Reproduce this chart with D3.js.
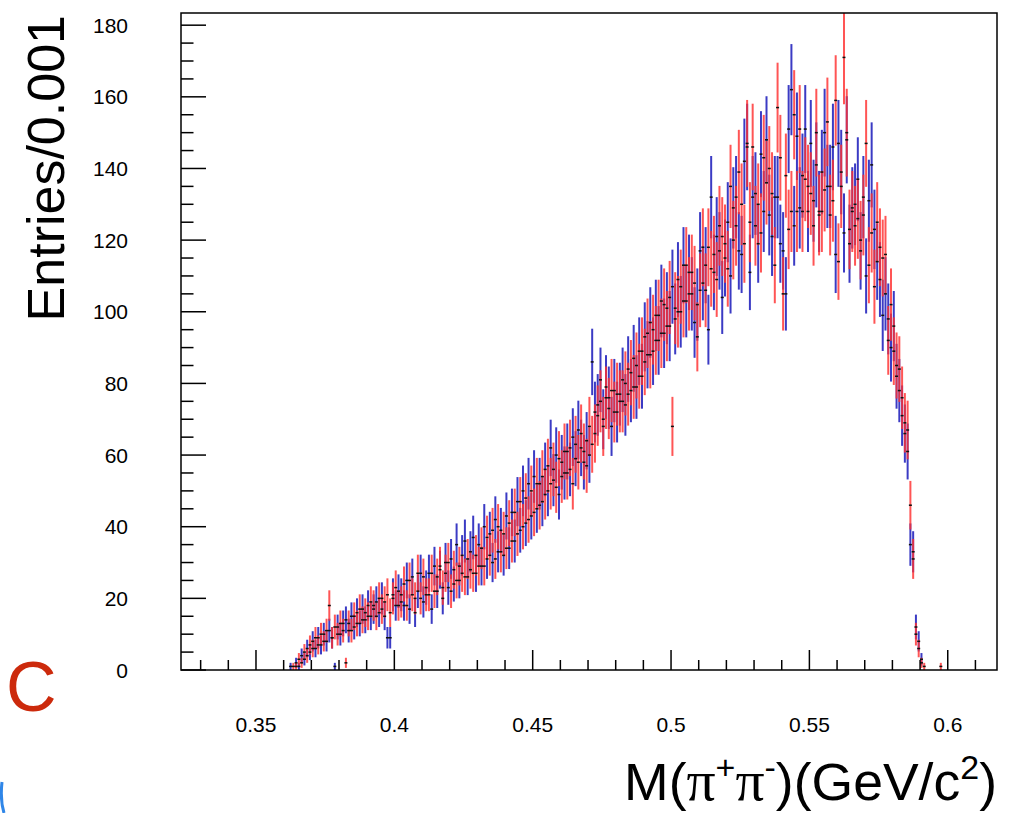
<!DOCTYPE html>
<html>
<head>
<meta charset="utf-8">
<script src="https://cdn.jsdelivr.net/npm/d3@7"></script>
<style>
  body { margin: 0; background: #fff; }
  text { font-family: 'Liberation Sans', Arial, sans-serif; }
</style>
</head>
<body>
<svg id="chart" width="1013" height="813"></svg>
<script>
// first bin centre and bin width (GeV/c^2)
const binStart = 0.3625
const binWidth = 0.001

// entries per bin, blue sample
const blueCounts = [
  1, 0, 2, 1, 4, 3, 6, 5, 8, 6,
  9, 7, 10, 8, 11, 9, 1, 12, 10, 13,
  14, 11, 15, 12, 16, 13, 17, 14, 18, 15,
  17, 19, 16, 20, 15, 9, 9, 21, 18, 22,
  21, 18, 25, 17, 26, 16, 22, 27, 19, 23,
  27, 17, 29, 22, 28, 20, 30, 23, 31, 24,
  35, 25, 32, 36, 26, 33, 37, 27, 35, 29,
  40, 31, 38, 30, 42, 33, 39, 32, 43, 34,
  44, 36, 47, 39, 50, 41, 52, 43, 54, 45,
  52, 47, 56, 50, 62, 53, 60, 49, 58, 55,
  61, 56, 65, 59, 67, 62, 58, 64, 60, 86,
  72, 74, 81, 70, 79, 76, 68, 78, 72, 77,
  81, 74, 84, 78, 87, 79, 89, 82, 93, 88,
  97, 89, 99, 92, 103, 94, 101, 96, 107, 98,
  109, 100, 113, 103, 111, 105, 97, 102, 117, 108,
  113, 95, 132, 111, 121, 117, 104, 115, 125, 110,
  129, 132, 117, 116, 142, 146, 111, 132, 133, 119,
  144, 128, 148, 127, 121, 132, 132, 119, 117, 105,
  151, 162, 124, 149, 129, 138, 151, 128, 147, 131,
  141, 128, 139, 150, 135, 135, 146, 116, 147, 139,
  122, 148, 119, 129, 130, 137, 117, 132, 110, 131,
  141, 123, 114, 109, 99, 105, 98, 90, 96, 82,
  78, 71, 66, 61, 35, 33, 12, 8, 3, 0,
  0, 0, 0, 0, 0, 0
]

// entries per bin, red sample
const redCounts = [
  0, 1, 1, 3, 2, 5, 4, 7, 6, 9,
  7, 10, 8, 11, 18, 9, 12, 10, 13, 11,
  2, 13, 11, 15, 13, 17, 14, 16, 15, 19,
  18, 15, 20, 17, 19, 21, 16, 20, 23, 18,
  19, 24, 18, 25, 21, 20, 27, 20, 26, 21,
  21, 27, 22, 26, 29, 23, 27, 30, 22, 28,
  25, 29, 27, 26, 31, 28, 27, 32, 29, 34,
  29, 37, 32, 39, 31, 40, 33, 38, 34, 41,
  36, 44, 38, 47, 40, 48, 42, 50, 44, 52,
  46, 54, 49, 57, 52, 56, 51, 59, 54, 61,
  55, 62, 52, 63, 58, 66, 61, 57, 68, 63,
  66, 71, 75, 68, 76, 73, 78, 72, 77, 75,
  75, 80, 77, 83, 79, 85, 82, 89, 86, 94,
  88, 95, 92, 99, 94, 102, 96, 104, 68, 101,
  100, 107, 103, 113, 105, 111, 108, 93, 106, 118,
  106, 118, 112, 116, 109, 124, 121, 119, 112, 135,
  120, 124, 139, 130, 119, 147, 125, 146, 124, 130,
  122, 143, 136, 140, 133, 113, 157, 143, 105, 138,
  123, 128, 155, 128, 151, 128, 137, 135, 133, 124,
  150, 127, 128, 134, 153, 127, 131, 159, 114, 135,
  171, 150, 123, 128, 124, 126, 120, 127, 147, 113,
  122, 107, 125, 118, 115, 116, 92, 102, 89, 85,
  84, 76, 69, 67, 46, 31, 10, 6, 2, 1,
  0, 0, 0, 0, 0, 1
]

const xTicks = [0.35, 0.4, 0.45, 0.5, 0.55, 0.6]
const yTicks = [0, 20, 40, 60, 80, 100, 120, 140, 160, 180]

const svg = d3.select('#chart')
const frame = {left: 181, right: 997, top: 13, bottom: 670}

const x = d3.scaleLinear().domain([0.3229, 0.6178]).range([frame.left, frame.right])
const y = d3.scaleLinear().domain([0, 183.4]).range([frame.bottom, frame.top])

const toBins = counts => counts
  .map((n, i) => ({x: binStart + i*binWidth, n}))
  .filter(d => d.n > 0)

const series = [
  {name: 'blue', bins: toBins(blueCounts), color: '#3b3bc4', opacity: 1},
  {name: 'red', bins: toBins(redCounts), color: '#ff3030', opacity: 0.82}
]

// error bars: n +- sqrt(n)
const bars = svg.append('g').attr('class', 'errorBars')
series.forEach(s => {
  bars.append('g').attr('id', 'bars'+s.name)
    .selectAll('line').data(s.bins).enter().append('line')
      .attr('x1', d => x(d.x)).attr('x2', d => x(d.x))
      .attr('y1', d => y(Math.min(d.n + Math.sqrt(d.n), 183.4)))
      .attr('y2', d => y(Math.max(d.n - Math.sqrt(d.n), 0)))
      .attr('stroke', s.color)
      .attr('stroke-width', 2)
      .attr('stroke-opacity', s.opacity)
})

// black point markers on top
const marks = svg.append('g').attr('class', 'markers')
series.forEach(s => {
  marks.selectAll('rect.m'+s.name).data(s.bins).enter().append('rect')
    .attr('class', 'm'+s.name)
    .attr('x', d => x(d.x) - 1.5)
    .attr('y', d => y(d.n) - 0.75)
    .attr('width', 3)
    .attr('height', 1.5)
    .attr('fill', '#111')
})

// frame
svg.append('rect')
  .attr('x', frame.left).attr('y', frame.top)
  .attr('width', frame.right - frame.left).attr('height', frame.bottom - frame.top)
  .attr('fill', 'none').attr('stroke', '#000').attr('stroke-width', 1.5)

// x ticks, pointing inward
const xAxis = svg.append('g').attr('class', 'xAxis')
const xMinor = d3.range(33, 62).map(v => v/100)
xAxis.selectAll('line').data(xMinor).enter().append('line')
  .attr('x1', d => x(d)).attr('x2', d => x(d))
  .attr('y1', frame.bottom)
  .attr('y2', d => frame.bottom - (xTicks.some(t => Math.abs(t-d) < 1e-9) ? 20 : 10))
  .attr('stroke', '#000').attr('stroke-width', 1.5)
xAxis.selectAll('text').data(xTicks).enter().append('text')
  .attr('x', d => x(d)).attr('y', 732)
  .attr('text-anchor', 'middle')
  .attr('font-size', 21)
  .text(d => d3.format('~g')(d))

// y ticks
const yAxis = svg.append('g').attr('class', 'yAxis')
const yMinor = d3.range(0, 185, 5)
yAxis.selectAll('line').data(yMinor).enter().append('line')
  .attr('x1', frame.left)
  .attr('x2', d => frame.left + (d % 20 === 0 ? 25 : 12.5))
  .attr('y1', d => y(d)).attr('y2', d => y(d))
  .attr('stroke', '#000').attr('stroke-width', 1.5)
yAxis.selectAll('text').data(yTicks).enter().append('text')
  .attr('x', 128).attr('y', d => y(d) + 7.5)
  .attr('text-anchor', 'end')
  .attr('font-size', 21)
  .text(d => d)

// axis titles
svg.append('text')
  .attr('transform', 'translate(64,15) rotate(-90)')
  .attr('text-anchor', 'end')
  .attr('font-size', 52)
  .text('Entries/0.001')

const xTitle = svg.append('text')
  .attr('x', 997).attr('y', 800)
  .attr('text-anchor', 'end')
  .attr('font-size', 52)
xTitle.append('tspan').text('M(')
xTitle.append('tspan').attr('font-family', "'Liberation Serif', serif").attr('font-size', 56).text('π')
xTitle.append('tspan').attr('font-size', 33).attr('dy', -21).text('+')
xTitle.append('tspan').attr('font-family', "'Liberation Serif', serif").attr('font-size', 56).attr('dy', 21).text('π')
xTitle.append('tspan').attr('font-size', 33).attr('dy', -21).text('-')
xTitle.append('tspan').attr('dy', 21).text(')(GeV/c')
xTitle.append('tspan').attr('font-size', 33).attr('dy', -21).text('2')
xTitle.append('tspan').attr('dy', 21).text(')')
// stretch to the width it has in the picture (M starts near x=624)
const titleW = xTitle.node().getComputedTextLength()
if(titleW > 0) xTitle.attr('transform', `translate(997,0) scale(${373/titleW},1) translate(-997,0)`)

// panel label
svg.append('text')
  .attr('x', 6).attr('y', 711)
  .attr('font-size', 70)
  .attr('fill', '#cc2a0c')
  .text('C')

// clipped edge of neighbouring panel label
svg.append('path')
  .attr('d', 'M4,813 Q0,800 2,782')
  .attr('fill', 'none')
  .attr('stroke', '#2f86e8')
  .attr('stroke-width', 3)
</script>
</body>
</html>
